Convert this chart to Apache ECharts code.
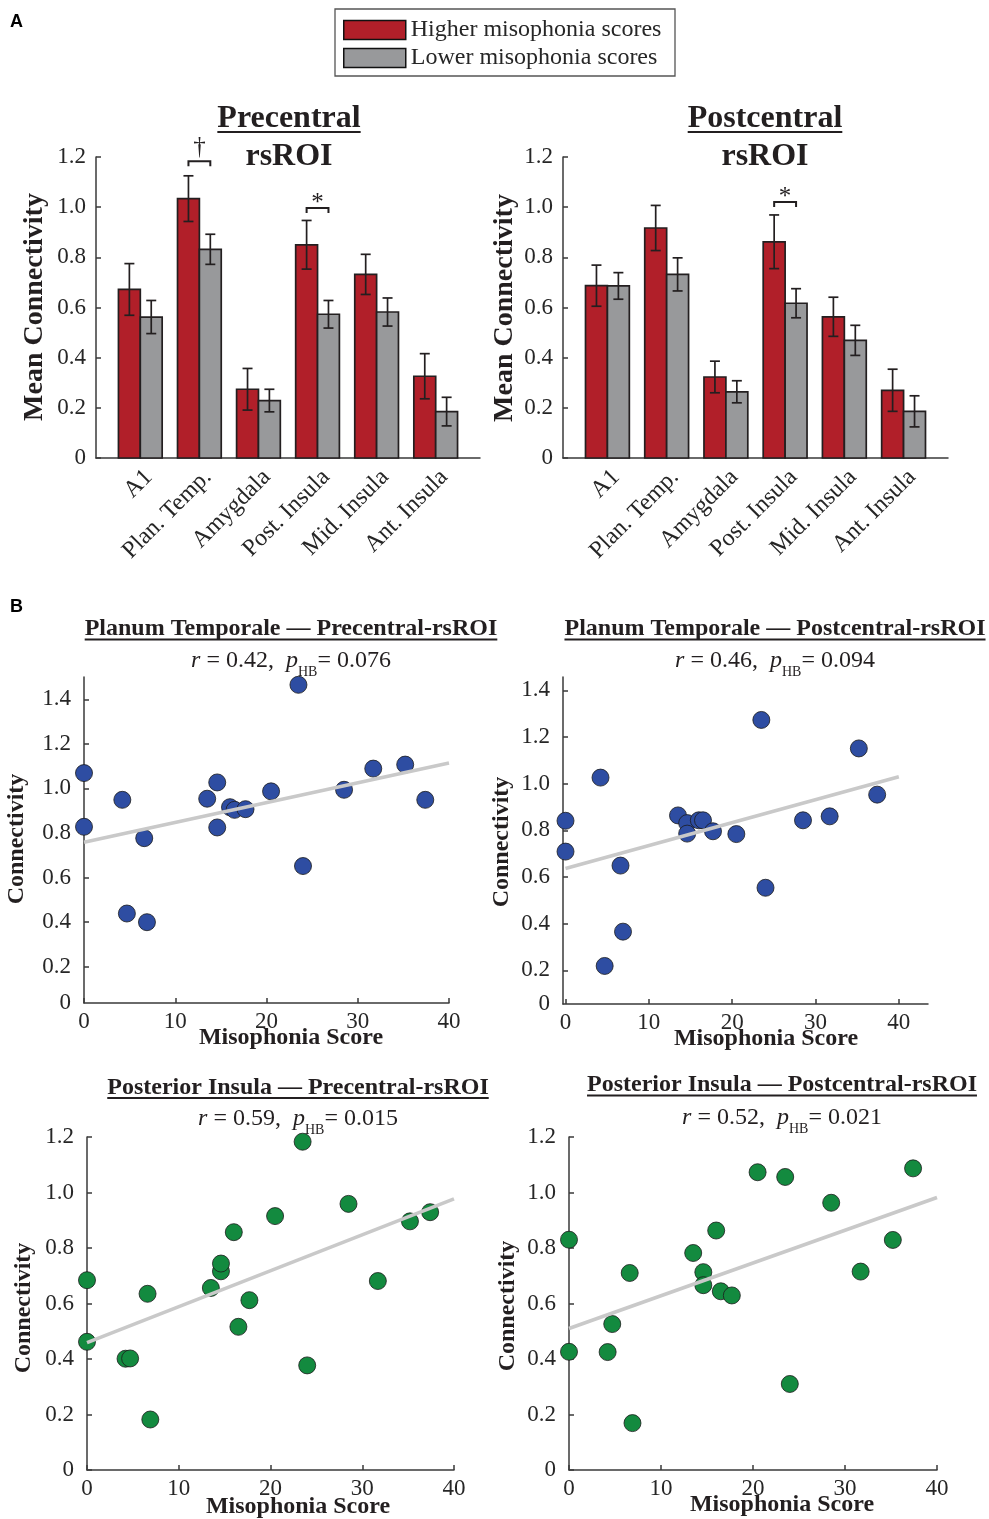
<!DOCTYPE html>
<html><head><meta charset="utf-8">
<script src="https://cdn.jsdelivr.net/npm/echarts@6/dist/echarts.min.js"></script>
<style>html,body{margin:0;padding:0;background:#fff}#c{width:989px;height:1519px}</style>
</head><body><div id="c"></div>
<script>
// ---------------- DATA ----------------
const categories = ['A1', 'Plan. Temp.', 'Amygdala', 'Post. Insula', 'Mid. Insula', 'Ant. Insula'];
const groupNames = ['Higher misophonia scores', 'Lower misophonia scores'];

const preHigh    = [0.672, 1.034, 0.274, 0.850, 0.732, 0.326];
const preHighErr = [0.103, 0.091, 0.083, 0.097, 0.080, 0.090];
const preLow     = [0.562, 0.832, 0.229, 0.573, 0.582, 0.185];
const preLowErr  = [0.066, 0.060, 0.045, 0.055, 0.056, 0.057];

const postHigh    = [0.687, 0.917, 0.323, 0.862, 0.563, 0.270];
const postHighErr = [0.082, 0.090, 0.063, 0.107, 0.078, 0.084];
const postLow     = [0.686, 0.732, 0.264, 0.617, 0.469, 0.186];
const postLowErr  = [0.053, 0.066, 0.044, 0.058, 0.060, 0.062];

const preSigCat = [2, 4];
const preSigY = [1.183, 0.997];
const preSigMark = ['\u2020', '*'];
const postSigCat = [4];
const postSigY = [1.021];
const postSigMark = ['*'];

const barTicks = [0, 0.2, 0.4, 0.6, 0.8, 1.0, 1.2];

const misophoniaScore = [0, 0, 4.2, 4.7, 6.6, 6.9, 13.5, 14.6, 14.6, 16.0, 16.5, 17.7, 20.5, 23.5, 24.0, 28.5, 31.7, 35.2, 37.4];
const ptPreConn  = [1.069, 0.828, 0.949, 0.439, 0.777, 0.400, 0.954, 1.027, 0.825, 0.916, 0.904, 0.907, 0.987, 1.465, 0.652, 0.994, 1.089, 1.107, 0.949];
const ptPostConn = [0.841, 0.709, 1.026, 0.219, 0.649, 0.366, 0.864, 0.831, 0.786, 0.843, 0.843, 0.796, 0.784, 1.273, 0.554, 0.843, 0.860, 1.151, 0.953];
const piPreConn  = [0.684, 0.462, 0.401, 0.402, 0.635, 0.182, 0.656, 0.716, 0.744, 0.857, 0.516, 0.612, 0.915, 1.183, 0.377, 0.959, 0.681, 0.896, 0.929];
const piPostConn = [0.830, 0.426, 0.425, 0.526, 0.710, 0.169, 0.782, 0.713, 0.666, 0.863, 0.644, 0.629, 1.073, 1.056, 0.310, 0.963, 0.715, 0.829, 1.087];

const fitPtPre  = [[0, 0.759], [40, 1.114]];
const fitPtPost = [[0, 0.637], [40, 1.030]];
const fitPiPre  = [[0, 0.459], [40, 0.977]];
const fitPiPost = [[0, 0.510], [40, 0.982]];

const scatterTitles = [
  'Planum Temporale \u2014 Precentral-rsROI',
  'Planum Temporale \u2014 Postcentral-rsROI',
  'Posterior Insula \u2014 Precentral-rsROI',
  'Posterior Insula \u2014 Postcentral-rsROI'
];
const statR = ['0.42', '0.46', '0.59', '0.52'];
const statP = ['0.076', '0.094', '0.015', '0.021'];

const xTicks = [0, 10, 20, 30, 40];
const yTicksA = [0.2, 0.4, 0.6, 0.8, 1.0, 1.2, 1.4];
const yTicksB = [0, 0.2, 0.4, 0.6, 0.8, 1.0, 1.2];

// ---------------- STYLE ----------------
const SERIF = '"Liberation Serif","Times New Roman",Times,serif';
const INK = '#231f20';
const AXIS = '#3a3a3a';
const LABEL = '#262626';
const RED = '#B11F29';
const GRAY = '#98999B';
const BLUE = '#2E4DA2';
const GREEN = '#138A3F';
const FIT = '#c9c9c9';
const BAR_W = 0.37;
const CAP = 5;

const cv = document.createElement('canvas').getContext('2d');
function textW(t, size, weight) {
  cv.font = (weight || 'normal') + ' ' + size + 'px "Liberation Serif"';
  return cv.measureText(t).width;
}

const chart = echarts.init(document.getElementById('c'), null, {renderer: 'canvas'});

const grids = [
  {left: 96, top: 157, width: 384, height: 301},
  {left: 563, top: 157, width: 385, height: 301},
  {left: 84, top: 677, width: 365, height: 326},
  {left: 563, top: 677, width: 365, height: 327},
  {left: 87, top: 1137, width: 367, height: 333},
  {left: 569, top: 1137, width: 368, height: 333}
];

const axisLine = {show: true, onZero: false, lineStyle: {color: AXIS, width: 1.5}};
const tickStyle = {show: true, inside: true, length: 5, lineStyle: {color: AXIS, width: 1.5}};
const fmtNum = v => (v < 0.1 ? '0' : v.toFixed(1));

const xAxes = [], yAxes = [];
for (let i = 0; i < 2; i++) {
  xAxes.push({
    type: 'value', gridIndex: i, min: 0.25, max: 6.75,
    axisLine: axisLine, axisTick: {show: false}, splitLine: {show: false},
    axisLabel: {
      customValues: [1, 2, 3, 4, 5, 6], rotate: 45, margin: 7, verticalAlign: 'top',
      formatter: v => categories[Math.round(v) - 1],
      fontFamily: SERIF, fontSize: 24, color: LABEL
    }
  });
  yAxes.push({
    type: 'value', gridIndex: i, min: 0, max: 1.2,
    axisLine: axisLine, splitLine: {show: false},
    axisTick: Object.assign({}, tickStyle, {customValues: barTicks}),
    axisLabel: {customValues: barTicks, formatter: v => (v === 0 ? '0' : v.toFixed(1)), margin: 10,
      fontFamily: SERIF, fontSize: 23, color: LABEL}
  });
}
const scX = [[0, 40], [-0.3, 43.5], [0, 40], [0, 40]];
const scY = [[0.0375, 1.5], [0.056, 1.457], [0, 1.2], [0, 1.2]];
for (let k = 0; k < 4; k++) {
  const gi = k + 2;
  const yt = k < 2 ? yTicksA : yTicksB;
  const ylab = k < 2 ? [scY[k][0]].concat(yTicksA) : yTicksB;
  xAxes.push({
    type: 'value', gridIndex: gi, min: scX[k][0], max: scX[k][1],
    axisLine: axisLine, splitLine: {show: false},
    axisTick: Object.assign({}, tickStyle, {customValues: xTicks}),
    axisLabel: {customValues: xTicks, margin: 7, fontFamily: SERIF, fontSize: 23, color: LABEL}
  });
  yAxes.push({
    type: 'value', gridIndex: gi, min: scY[k][0], max: scY[k][1],
    axisLine: axisLine, splitLine: {show: false},
    axisTick: Object.assign({}, tickStyle, {customValues: yt}),
    axisLabel: {customValues: ylab, formatter: fmtNum, margin: 13, fontFamily: SERIF, fontSize: 23, color: LABEL}
  });
}

function barRender(side, fill) {
  return function (params, api) {
    const c = api.value(0), v = api.value(1), e = api.value(2);
    const xa = side < 0 ? c - BAR_W : c;
    const xb = side < 0 ? c : c + BAR_W;
    const xm = (xa + xb) / 2;
    const tl = api.coord([xa, v]);
    const br = api.coord([xb, 0]);
    const top = api.coord([xm, v + e]);
    const bot = api.coord([xm, v - e]);
    const ls = {stroke: INK, lineWidth: 1.7};
    return {
      type: 'group',
      children: [
        {type: 'rect', shape: {x: tl[0], y: tl[1], width: br[0] - tl[0], height: br[1] - tl[1]},
          style: {fill: fill, stroke: INK, lineWidth: 1.7}},
        {type: 'line', shape: {x1: top[0], y1: top[1], x2: bot[0], y2: bot[1]}, style: ls},
        {type: 'line', shape: {x1: top[0] - CAP, y1: top[1], x2: top[0] + CAP, y2: top[1]}, style: ls},
        {type: 'line', shape: {x1: bot[0] - CAP, y1: bot[1], x2: bot[0] + CAP, y2: bot[1]}, style: ls}
      ]
    };
  };
}
function barData(vals, errs) {
  return categories.map((c, i) => [i + 1, vals[i], errs[i]]);
}
function sigRender(marks) {
  return function (params, api) {
    const c = api.value(0), y = api.value(1);
    const l = api.coord([c - BAR_W / 2, y]);
    const r = api.coord([c + BAR_W / 2, y]);
    const m = marks[params.dataIndex];
    const dy = m === '*' ? 8 : -1;
    return {
      type: 'group',
      children: [
        {type: 'polyline', shape: {points: [[l[0], l[1] + 5], [l[0], l[1]], [r[0], r[1]], [r[0], r[1] + 5]]},
          style: {stroke: INK, lineWidth: 2, fill: null}},
        {type: 'text', x: (l[0] + r[0]) / 2, y: l[1] + dy,
          style: {text: m, fontFamily: SERIF, fontSize: 25, fill: INK,
            align: 'center', verticalAlign: 'bottom', textAlign: 'center', textVerticalAlign: 'bottom'}}
      ]
    };
  };
}

const series = [
  {type: 'custom', name: groupNames[0], xAxisIndex: 0, yAxisIndex: 0, itemStyle: {color: RED},
    renderItem: barRender(-1, RED), data: barData(preHigh, preHighErr), encode: {x: 0, y: 1}},
  {type: 'custom', name: groupNames[1], xAxisIndex: 0, yAxisIndex: 0, itemStyle: {color: GRAY},
    renderItem: barRender(1, GRAY), data: barData(preLow, preLowErr), encode: {x: 0, y: 1}},
  {type: 'custom', name: groupNames[0], xAxisIndex: 1, yAxisIndex: 1, itemStyle: {color: RED},
    renderItem: barRender(-1, RED), data: barData(postHigh, postHighErr), encode: {x: 0, y: 1}},
  {type: 'custom', name: groupNames[1], xAxisIndex: 1, yAxisIndex: 1, itemStyle: {color: GRAY},
    renderItem: barRender(1, GRAY), data: barData(postLow, postLowErr), encode: {x: 0, y: 1}},
  {type: 'custom', xAxisIndex: 0, yAxisIndex: 0, silent: true, clip: false,
    renderItem: sigRender(preSigMark), data: preSigCat.map((c, i) => [c, preSigY[i]]), encode: {x: 0, y: 1}},
  {type: 'custom', xAxisIndex: 1, yAxisIndex: 1, silent: true, clip: false,
    renderItem: sigRender(postSigMark), data: postSigCat.map((c, i) => [c, postSigY[i]]), encode: {x: 0, y: 1}}
];
const conns = [ptPreConn, ptPostConn, piPreConn, piPostConn];
const fits = [fitPtPre, fitPtPost, fitPiPre, fitPiPost];
const dotColors = [BLUE, BLUE, GREEN, GREEN];
for (let k = 0; k < 4; k++) {
  series.push({
    type: 'scatter', xAxisIndex: k + 2, yAxisIndex: k + 2, symbolSize: 17, z: 2,
    itemStyle: {color: dotColors[k], borderColor: '#1c1c1c', borderWidth: 0.8, opacity: 1},
    data: misophoniaScore.map((x, i) => [x, conns[k][i]])
  });
  series.push({
    type: 'line', xAxisIndex: k + 2, yAxisIndex: k + 2, symbol: 'none', z: 3, silent: true,
    lineStyle: {color: FIT, width: 3.6}, data: fits[k]
  });
}

// ---------------- TEXT (graphic) ----------------
const graphic = [];
function txt(t, x, y, size, weight, opts) {
  const o = Object.assign({
    type: 'text', x: x, y: y, silent: true,
    style: {text: t, fontFamily: SERIF, fontSize: size, fontWeight: weight || 'normal', fill: INK,
      align: 'center', verticalAlign: 'middle', textAlign: 'center', textVerticalAlign: 'middle'}
  }, opts || {});
  graphic.push(o);
}
function underline(t, cx, y, size) {
  const w = textW(t, size, 'bold');
  graphic.push({type: 'line', silent: true, shape: {x1: cx - w / 2, y1: y, x2: cx + w / 2, y2: y},
    style: {stroke: INK, lineWidth: 2}});
}
// panel letters
graphic.push({type: 'text', x: 10, y: 22, silent: true, style: {text: 'A', fontFamily: '"Liberation Sans",Arial,sans-serif',
  fontSize: 18, fontWeight: 'bold', fill: '#000', align: 'left', verticalAlign: 'middle', textAlign: 'left', textVerticalAlign: 'middle'}});
graphic.push({type: 'text', x: 10, y: 607, silent: true, style: {text: 'B', fontFamily: '"Liberation Sans",Arial,sans-serif',
  fontSize: 18, fontWeight: 'bold', fill: '#000', align: 'left', verticalAlign: 'middle', textAlign: 'left', textVerticalAlign: 'middle'}});
// legend box
graphic.push({type: 'rect', silent: true, z: -1, shape: {x: 335, y: 9, width: 340, height: 67},
  style: {fill: '#fff', stroke: '#555', lineWidth: 1.3}});
// bar titles
const barTitles = [['Precentral', 289], ['Postcentral', 765]];
barTitles.forEach(([t, cx]) => {
  txt(t, cx, 119, 32, 'bold');
  underline(t, cx, 132, 32);
  txt('rsROI', cx, 157, 32, 'bold');
});
txt('Mean Connectivity', 35, 307, 28, 'bold', {rotation: Math.PI / 2});
txt('Mean Connectivity', 505, 308, 28, 'bold', {rotation: Math.PI / 2});

// scatter titles
const stPos = [[291, 629, 639.5, 661], [775, 629, 639.5, 661], [298, 1088, 1098, 1119], [782, 1085, 1095.5, 1118]];
for (let k = 0; k < 4; k++) {
  const [cx, ty, uy, sy] = stPos[k];
  txt(scatterTitles[k], cx, ty, 24, 'bold');
  underline(scatterTitles[k], cx, uy, 24);
  graphic.push({
    type: 'text', x: cx, y: sy, silent: true,
    style: {
      text: '{i|r}{n| = ' + statR[k] + ',  }{i|p}{s|HB}{n|= ' + statP[k] + '}',
      fontFamily: SERIF, fontSize: 24, fill: INK,
      align: 'center', verticalAlign: 'middle', textAlign: 'center', textVerticalAlign: 'middle',
      rich: {
        n: {fontFamily: SERIF, fontSize: 24, lineHeight: 24, verticalAlign: 'top', fill: INK, color: INK},
        i: {fontFamily: SERIF, fontSize: 24, lineHeight: 24, fontStyle: 'italic', verticalAlign: 'top', fill: INK, color: INK},
        s: {fontFamily: SERIF, fontSize: 14, lineHeight: 14, padding: [16, 0, 0, 0], verticalAlign: 'top', fill: INK, color: INK}
      }
    }
  });
}
const ynPos = [[17, 839], [502, 842], [24, 1308], [508, 1306]];
const xnPos = [[291, 1038], [766, 1039], [298, 1507], [782, 1505]];
for (let k = 0; k < 4; k++) {
  txt('Connectivity', ynPos[k][0], ynPos[k][1], 24, 'bold', {rotation: Math.PI / 2});
  txt('Misophonia Score', xnPos[k][0], xnPos[k][1], 24, 'bold');
}

chart.setOption({
  animation: false,
  backgroundColor: '#fff',
  grid: grids,
  xAxis: xAxes,
  yAxis: yAxes,
  legend: {
    orient: 'vertical', left: 343, top: 18, padding: 0,
    itemWidth: 62, itemHeight: 19, itemGap: 4, icon: 'rect', selectedMode: false,
    itemStyle: {borderColor: '#111', borderWidth: 1.5},
    textStyle: {fontFamily: SERIF, fontSize: 24, lineHeight: 24, color: LABEL},
    data: groupNames
  },
  graphic: graphic,
  series: series
});
</script>
</body></html>
